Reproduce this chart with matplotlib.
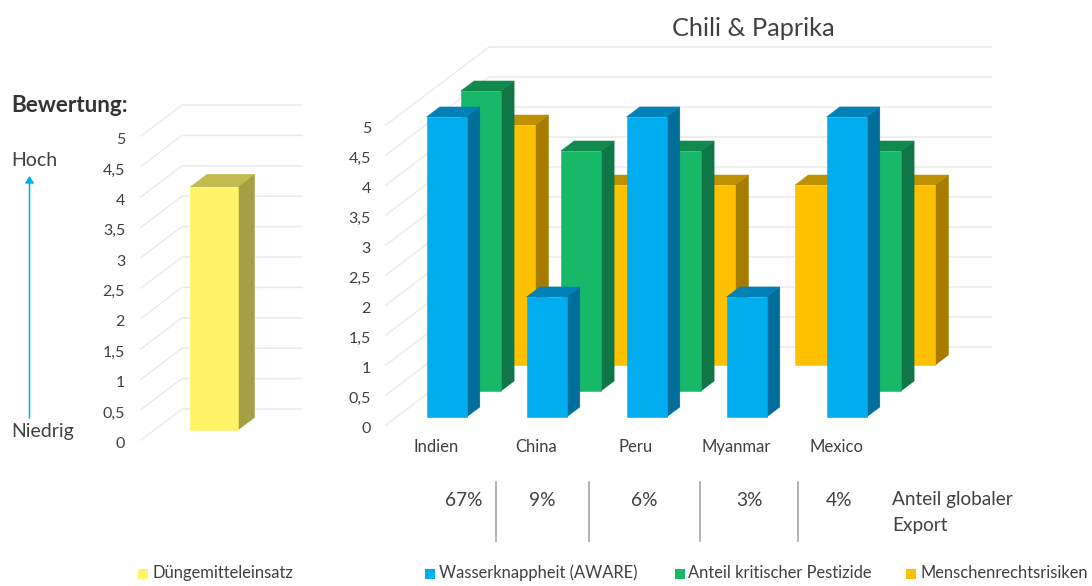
import matplotlib
matplotlib.use("Agg")
import matplotlib.pyplot as plt
from matplotlib.patches import Polygon, Rectangle
from matplotlib.lines import Line2D
from matplotlib.transforms import ScaledTranslation

plt.rcParams['font.family'] = ['Lato', 'DejaVu Sans']

# ---- data ----
countries = ["Indien", "China", "Peru", "Myanmar", "Mexico"]
wasser = [5, 2, 5, 2, 5]
pestizide = [5, 4, 4, 0, 4]
menschenrechte = [4, 3, 3, 3, 3]
duenger = [4]
export_share = ["67%", "9%", "6%", "3%", "4%"]
scale_ticks = [0, 0.5, 1, 1.5, 2, 2.5, 3, 3.5, 4, 4.5, 5]
scale_labels = ["0", "0,5", "1", "1,5", "2", "2,5", "3", "3,5", "4", "4,5", "5"]

W, H = 1092, 586
TXT = "#404040"
GRID = "#ebebeb"
BLUE = ("#00ADEF", "#006D9A", "#0082B9")
GREEN = ("#17B868", "#0F7745", "#118A4E")
ORANGE = ("#FFC000", "#A67C00", "#BF9000")
YELLOW = ("#FFF467", "#A69F43", "#C2BB50")

fig = plt.figure(figsize=(W / 100, H / 100), dpi=100, facecolor="white")


def make_axes(px_left, px_right, py_bottom, py_top):
    ax = fig.add_axes([px_left / W, 1 - py_bottom / H,
                       (px_right - px_left) / W, (py_bottom - py_top) / H])
    ax.patch.set_visible(False)
    for s in ax.spines.values():
        s.set_visible(False)
    return ax


def bar3d(ax, x, value, half, d0, d1, dx, dy, cols, z):
    """x: slot centre, d0/d1: depth fractions, dx/dy: full floor depth in data units."""
    front, side, top = cols
    l, r = x - half, x + half
    fx0, fy0 = d0 * dx, d0 * dy
    fx1, fy1 = d1 * dx, d1 * dy
    faces = [
        ([(r + fx0, fy0), (r + fx1, fy1), (r + fx1, value + fy1), (r + fx0, value + fy0)], side),
        ([(l + fx0, value + fy0), (r + fx0, value + fy0), (r + fx1, value + fy1), (l + fx1, value + fy1)], top),
        ([(l + fx0, fy0), (r + fx0, fy0), (r + fx0, value + fy0), (l + fx0, value + fy0)], front),
    ]
    for pts, c in faces:
        ax.add_patch(Polygon(pts, closed=True, facecolor=c, edgecolor=c, lw=0.4,
                             clip_on=False, zorder=z))


def walls(ax, xl, xr, dx, dy):
    for v in scale_ticks:
        ax.add_line(Line2D([xl, xl + dx, xr + dx], [v, v + dy, v + dy], color=GRID, lw=1.1,
                           clip_on=False, zorder=1))


def style_y(ax, pad):
    ax.set_ylim(0, 5)
    ax.set_yticks(scale_ticks)
    ax.set_yticklabels(scale_labels)
    ax.tick_params(axis="y", length=0, pad=pad, labelsize=11.5, labelcolor=TXT)
    shift = ScaledTranslation(0, -2.5 / 100, fig.dpi_scale_trans)
    for lab in ax.get_yticklabels():
        lab.set_transform(lab.get_transform() + shift)


# ---- left chart ----
axl = make_axes(141, 302, 440, 136)
axl.set_xlim(-0.5, 0.842)
style_y(axl, 11.5)
axl.set_xticks([])
walls(axl, -0.5, 0.5, 0.342, 0.51)
bar3d(axl, 0, duenger[0], 0.197, 0.32, 0.726, 0.342, 0.51, YELLOW, 3)

# ---- right chart ----
axr = make_axes(386, 991, 425, 125)
axr.set_xlim(-0.5, 5.55)
style_y(axr, 10.8)
axr.set_xticks(range(len(countries)))
axr.set_xticklabels(countries)
axr.tick_params(axis="x", length=0, pad=10, labelsize=12, labelcolor=TXT)
DX, DY = 1.03, 1.3
walls(axr, -0.5, 4.52, DX, DY)
rows = [(menschenrechte, 0.769, ORANGE), (pestizide, 0.436, GREEN), (wasser, 0.103, BLUE)]
z = 3
for vals, d, cols in rows:
    for i, v in enumerate(vals):
        if v > 0:
            bar3d(axr, i, v, 0.2, d, d + 0.128, DX, DY, cols, z)
            z += 1


# ---- free text ----
def t(px, py, s, **kw):
    kw.setdefault("color", TXT)
    kw.setdefault("va", "center")
    fig.text(px / W, 1 - py / H, s, **kw)


t(753, 28, "Chili & Paprika", ha="center", fontsize=18.2)
t(11, 106, "Bewertung:", fontsize=16.2, fontweight="bold", color="#333333")
t(11, 161, "Hoch", fontsize=14)
t(11, 431, "Niedrig", fontsize=14)
fig.add_artist(matplotlib.patches.FancyArrowPatch(
    (29.5 / W, 1 - 418 / H), (29.5 / W, 1 - 176 / H), transform=fig.transFigure,
    arrowstyle="-|>,head_length=4,head_width=2.6", color="#00AEEF", lw=1.1, shrinkA=0, shrinkB=0))

for px, s in zip([464, 542, 644, 749, 839], export_share):
    t(px, 500, s, ha="center", fontsize=13.8)
for px in [496, 589, 700, 798]:
    fig.add_artist(Line2D([px / W, px / W], [1 - 482 / H, 1 - 541 / H], color="#a6a6a6", lw=1.2,
                          transform=fig.transFigure))
t(892, 499, "Anteil globaler", fontsize=13.7)
t(892, 525, "Export", fontsize=13.7)

legend_items = [(138, "Düngemitteleinsatz", YELLOW[0], 152),
                (425, "Wasserknappheit (AWARE)", BLUE[0], 439),
                (675, "Anteil kritischer Pestizide", GREEN[0], 688),
                (906, "Menschenrechtsrisiken", ORANGE[0], 921)]
for sx, label, col, tx in legend_items:
    fig.add_artist(Rectangle((sx / W, 1 - 579 / H), 9.5 / W, 10 / H, transform=fig.transFigure,
                             facecolor=col, edgecolor="none"))
    t(tx, 573, label, fontsize=11.9)

fig.savefig("out.png", dpi=100, facecolor="white")
